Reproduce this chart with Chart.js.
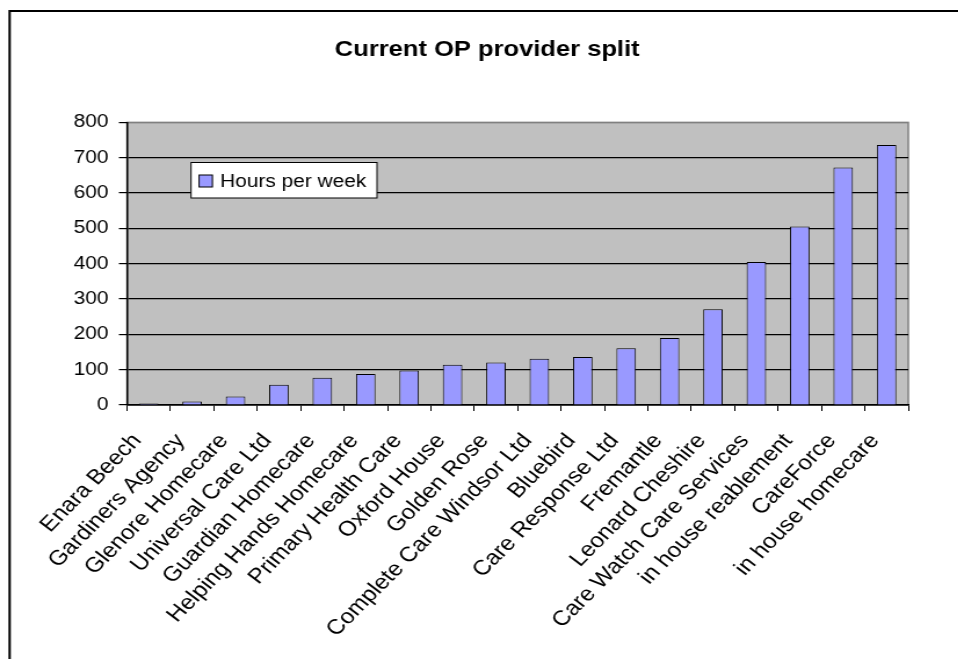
<!DOCTYPE html>
<html><head><meta charset="utf-8">
<script src="https://cdn.jsdelivr.net/npm/chart.js@4/dist/chart.umd.min.js"></script>
<style>
html,body{margin:0;padding:0;background:#fff;overflow:hidden}
#wrap{width:826px;height:659px;transform:scaleX(1.16);transform-origin:0 0}
canvas{display:block}
</style></head>
<body><div id="wrap"><canvas id="c" width="826" height="659"></canvas></div>
<script>
const chartTitle = 'Current OP provider split';
const seriesLabel = 'Hours per week';
const categories = ['Enara Beech','Gardiners Agency','Glenore Homecare','Universal Care Ltd','Guardian Homecare','Helping Hands Homecare','Primary Health Care','Oxford House','Golden Rose','Complete Care Windsor Ltd','Bluebird','Care Response Ltd','Fremantle','Leonard Cheshire','Care Watch Care Services','in house reablement','CareForce','in house homecare'];
const hoursPerWeek = [4, 10, 24, 57, 77, 88, 98, 114, 120, 131, 136, 161, 190, 271, 405, 505, 672, 736];
const yMin = 0, yMax = 800, yStep = 100;

const FONT = 'Liberation Sans, Arial, sans-serif';

const framePlugin = {
  id: 'frame',
  beforeDraw(chart) {
    const {ctx, chartArea: a} = chart;
    ctx.save();
    ctx.fillStyle = '#C0C0C0';
    ctx.fillRect(a.left, a.top, a.right - a.left, a.bottom - a.top);
    ctx.strokeStyle = '#808080';
    ctx.lineWidth = 1.5;
    ctx.strokeRect(a.left, a.top, a.right - a.left, a.bottom - a.top);
    ctx.strokeStyle = '#000';
    ctx.lineWidth = 2;
    ctx.beginPath();
    ctx.moveTo(8.3, 700);
    ctx.lineTo(8.3, 11);
    ctx.lineTo(840, 11);
    ctx.stroke();
    ctx.restore();
  },
  afterDatasetsDraw(chart) {
    const ctx = chart.ctx;
    const ds = chart.data.datasets[0];
    ctx.save();
    ctx.fillStyle = '#fff';
    ctx.fillRect(164.7, 162, 160.3, 36);
    ctx.strokeStyle = '#000';
    ctx.lineWidth = 1;
    ctx.strokeRect(164.7, 162.5, 160.3, 35.5);
    ctx.fillStyle = ds.backgroundColor;
    ctx.fillRect(171.6, 175, 11.5, 12);
    ctx.strokeRect(171.6, 175, 11.5, 12);
    ctx.fillStyle = '#000';
    ctx.font = '18px ' + FONT;
    ctx.textBaseline = 'alphabetic';
    ctx.textAlign = 'left';
    ctx.fillText(ds.label, 189.7, 186.7);
    ctx.restore();
  }
};

new Chart(document.getElementById('c'), {
  type: 'bar',
  data: {
    labels: categories,
    datasets: [{
      label: seriesLabel,
      data: hoursPerWeek,
      backgroundColor: '#9999FF',
      borderColor: '#000',
      borderWidth: 1,
      barPercentage: 0.45,
      categoryPercentage: 1.0
    }]
  },
  options: {
    responsive: false,
    devicePixelRatio: 1,
    animation: false,
    layout: {padding: {top: 12, left: 57, right: 43, bottom: 0}},
    plugins: {
      legend: {display: false},
      tooltip: {enabled: false},
      title: {
        display: true,
        text: chartTitle,
        color: '#000',
        font: {family: FONT, size: 22, weight: 'bold'},
        padding: {top: 25, bottom: 59}
      }
    },
    scales: {
      x: {
        afterFit(s) { s.height = 254; },
        grid: {display: true, drawOnChartArea: false, drawTicks: true, tickLength: 6, color: '#000', offset: true},
        border: {display: true, color: '#000', width: 1.5},
        ticks: {autoSkip: false, minRotation: 49.2, maxRotation: 49.2, color: '#000', font: {family: FONT, size: 21}, padding: 18, labelOffset: -10}
      },
      y: {
        min: yMin, max: yMax,
        afterFit(s) { s.width = 52.5; },
        grid: {
          color: (c) => (c.tick && c.tick.value === yMax) ? '#808080' : '#000',
          tickColor: '#000',
          tickLength: 7,
          lineWidth: 1.2
        },
        border: {display: true, color: '#000', width: 1.5},
        ticks: {stepSize: yStep, color: '#000', font: {family: FONT, size: 18}, padding: 9}
      }
    }
  },
  plugins: [framePlugin]
});
</script>
</body></html>
